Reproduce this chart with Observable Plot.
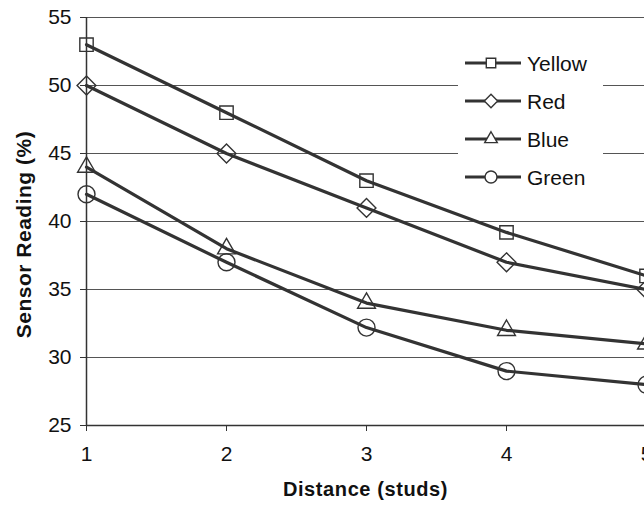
<!DOCTYPE html>
<html>
<head>
<meta charset="utf-8">
<script src="https://cdn.jsdelivr.net/npm/d3@7"></script>
<script src="https://cdn.jsdelivr.net/npm/@observablehq/plot@0.6"></script>
<style>
  html, body { margin: 0; padding: 0; background: #fff; }
  #wrap { position: relative; width: 644px; height: 512px; overflow: hidden; font-family: "Liberation Sans", Arial, sans-serif; }
  #legend { position: absolute; left: 458px; top: 44px; width: 145px; height: 150px; background: #fff; }
</style>
</head>
<body>
<div id="wrap"><div id="legend"></div></div>
<script>
const distances = [1, 2, 3, 4, 5];
const seriesNames = ["Yellow", "Red", "Blue", "Green"];
const yellow = [53, 48, 43, 39.2, 36];
const red = [50, 45, 41, 37, 35];
const blue = [44, 38, 34, 32, 31];
const green = [42, 37, 32.2, 29, 28];
const yTicks = [25, 30, 35, 40, 45, 50, 55];
const xTitle = "Distance (studs)";
const yTitle = "Sensor Reading (%)";
const symbolsFor = ["square2", "diamond2", "triangle2", "circle"];

const valuesBySeries = [yellow, red, blue, green];
const data = [];
seriesNames.forEach((s, i) => distances.forEach((d, j) => data.push({series: s, distance: d, value: valuesBySeries[i][j]})));

const ink = "#333";
const chart = Plot.plot({
  width: 644, height: 512,
  marginTop: 17, marginBottom: 87, marginLeft: 86, marginRight: 0,
  style: {fontFamily: "Liberation Sans, Arial, sans-serif", fontSize: "21px", color: "#111", background: "transparent"},
  x: {domain: [1, 5], range: [86, 646]},
  y: {domain: [25, 55]},
  symbol: {domain: seriesNames, range: symbolsFor},
  marks: [
    Plot.ruleY(yTicks.slice(1), {stroke: "#555", strokeWidth: 1}),
    Plot.ruleY([25], {stroke: ink, strokeWidth: 1.5}),
    Plot.ruleX([1], {stroke: ink, strokeWidth: 1.5}),
    Plot.axisY({ticks: yTicks, tickSize: 6, tickPadding: 9, label: null, stroke: ink, fontSize: 21}),
    Plot.axisX({ticks: distances, tickSize: 6, tickPadding: 15, label: null, stroke: ink, fontSize: 21, tickFormat: d => String(d)}),
    Plot.line(data, {x: "distance", y: "value", z: "series", stroke: ink, strokeWidth: 3.2}),
    Plot.dot(data, {x: "distance", y: "value", symbol: "series", r: 8.5, stroke: ink, strokeWidth: 1.4, fill: "none"}),
    Plot.text([xTitle], {frameAnchor: "bottom", dy: 70, fontWeight: "bold", fontSize: 20, fill: "#111"}),
    Plot.text([yTitle], {frameAnchor: "left", textAnchor: "middle", dx: -62, dy: 13, rotate: -90, fontWeight: "bold", fontSize: 21, fill: "#111"})
  ]
});
d3.select(chart).selectAll("text").filter(function() { return this.textContent === xTitle; }).style("letter-spacing", "0.6px");
d3.select(chart).selectAll("text").filter(function() { return this.textContent === yTitle; }).style("letter-spacing", "0.5px");
const wrap = document.getElementById("wrap");
wrap.insertBefore(chart, wrap.firstChild);
chart.style.position = "absolute"; chart.style.left = "0"; chart.style.top = "0";

// Legend
const lg = d3.select("#legend").append("svg").attr("width", 145).attr("height", 150)
  .style("font-family", "Liberation Sans, Arial, sans-serif");
const symMap = {square2: d3.symbolSquare2, diamond2: d3.symbolDiamond2, triangle2: d3.symbolTriangle2, circle: d3.symbolCircle};
seriesNames.forEach((s, i) => {
  const y = 19 + i * 38;
  const g = lg.append("g").attr("transform", `translate(0,${y})`);
  g.append("line").attr("x1", 7).attr("x2", 63).attr("y1", 0).attr("y2", 0).attr("stroke", ink).attr("stroke-width", 3.2);
  g.append("path").attr("transform", "translate(33,0)")
    .attr("d", d3.symbol(symMap[symbolsFor[i]], Math.PI * 6 * 6)())
    .attr("fill", "#fff").attr("stroke", ink).attr("stroke-width", 1.4);
  g.append("text").attr("x", 69).attr("y", 0).attr("dy", "0.36em").attr("font-size", 21).attr("fill", "#111").text(s);
});
</script>
</body>
</html>
